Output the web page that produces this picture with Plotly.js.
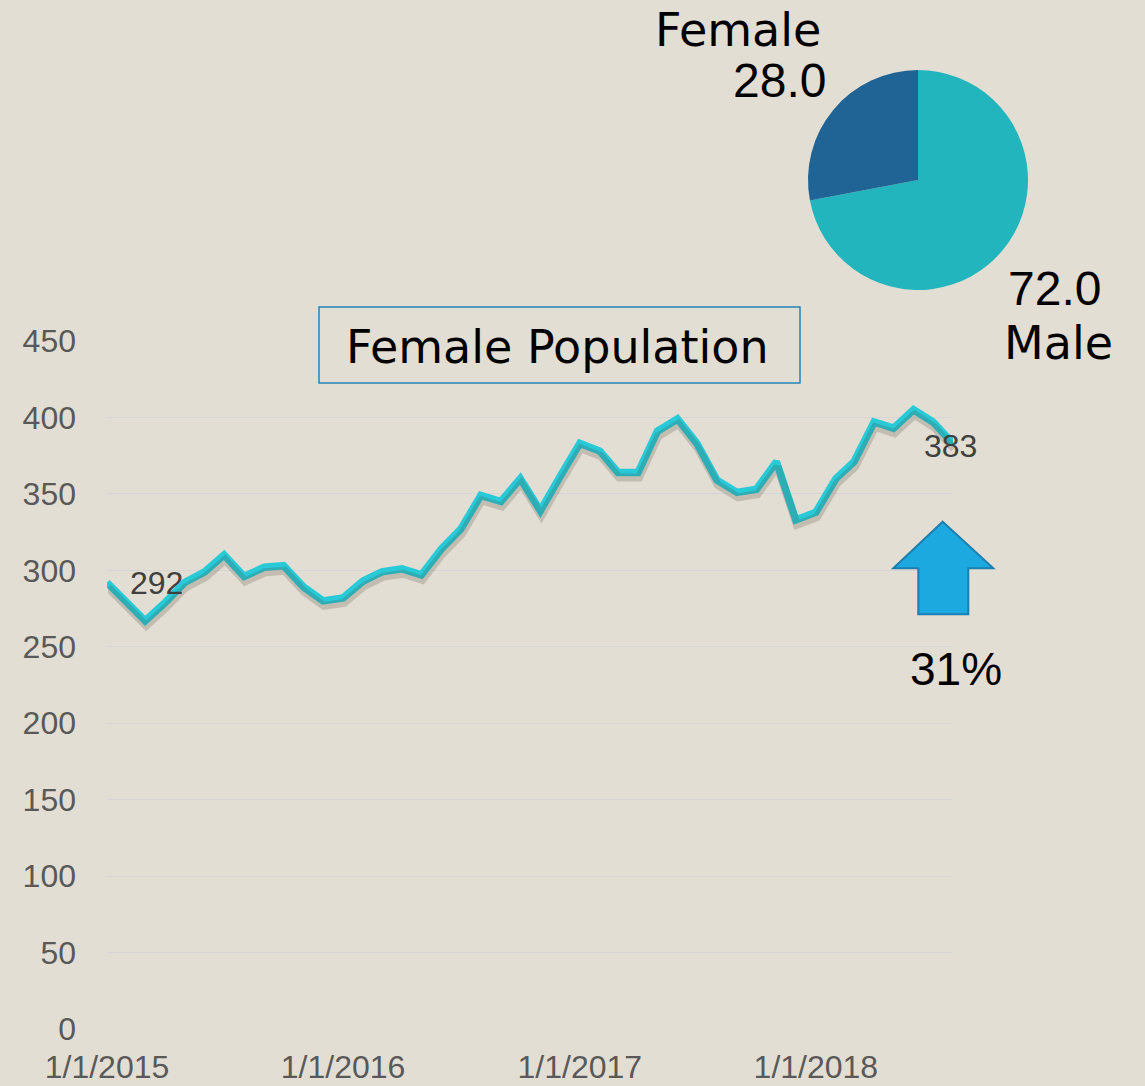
<!DOCTYPE html>
<html>
<head>
<meta charset="utf-8">
<script src="https://cdn.plot.ly/plotly-3.0.1.min.js"></script>
<style>html,body{margin:0;padding:0;background:#E3DED3;}#chart{width:1145px;height:1086px;}</style>
</head>
<body>
<div id="chart"></div>
<script>
// ---- data ----
const dates = ['2015-01-01','2015-02-01','2015-03-01','2015-04-01','2015-05-01','2015-06-01','2015-07-01','2015-08-01','2015-09-01','2015-10-01','2015-11-01','2015-12-01',
  '2016-01-01','2016-02-01','2016-03-01','2016-04-01','2016-05-01','2016-06-01','2016-07-01','2016-08-01','2016-09-01','2016-10-01','2016-11-01','2016-12-01',
  '2017-01-01','2017-02-01','2017-03-01','2017-04-01','2017-05-01','2017-06-01','2017-07-01','2017-08-01','2017-09-01','2017-10-01','2017-11-01','2017-12-01',
  '2018-01-01','2018-02-01','2018-03-01','2018-04-01','2018-05-01','2018-06-01','2018-07-01','2018-08-01'];
const femalePop = [292,279,267,279,292,299,310,296,302,303,289,280,
  282,293,299,301,297,314,327,349,345,360,339,361,
  383,378,364,364,391,399,383,359,351,353,371,333,
  338,360,371,397,393,405,397,383];
const xTickVals = ['2015-01-01','2016-01-01','2017-01-01','2018-01-01'];
const xTickText = ['1/1/2015','1/1/2016','1/1/2017','1/1/2018'];
const pieLabels = ['Male','Female'];
const pieValues = [72.0, 28.0];
const chartTitle = 'Female Population';

// ---- layout helpers (pixel -> paper) ----
const W = 1145, H = 1086;
const px = x => x / W;
const py = y => 1 - y / H;
const plotL = 107, plotR = 953, plotT = 341, plotB = 1029;
const sdx = 1, sdy = 5;

const bg = '#E3DED3';
const lineColor = '#29CAD8';
const wordFont = 'DejaVu Sans, sans-serif';
const numFont = 'Liberation Sans, Arial, sans-serif';

const last = femalePop.length - 1;
const growth = Math.round((femalePop[last] / femalePop[0] - 1) * 100) + '%';

const shadow = {
  x: dates, y: femalePop, type: 'scatter', mode: 'lines',
  xaxis: 'x2', yaxis: 'y2',
  line: {color: 'rgba(70,60,45,0.2)', width: 8},
  hoverinfo: 'skip', showlegend: false
};
const mainLine = {
  x: dates, y: femalePop, type: 'scatter', mode: 'lines',
  line: {color: lineColor, width: 7.5},
  showlegend: false
};
const pie = {
  type: 'pie', labels: pieLabels, values: pieValues,
  marker: {colors: ['#22B5BE', '#1F6495']},
  sort: false, direction: 'clockwise', rotation: 0,
  textinfo: 'none', hoverinfo: 'label+value',
  domain: {x: [px(807), px(1029)], y: [py(290), py(70)]},
  showlegend: false
};

const arrowPts = [[942.7,521.7],[993.3,568.3],[968.3,568.3],[968.3,614.3],[918.3,614.3],[918.3,568.3],[893.3,568.3]];
const arrowPath = 'M ' + arrowPts.map(p => px(p[0]) + ',' + py(p[1])).join(' L ') + ' Z';

const layout = {
  width: W, height: H,
  paper_bgcolor: bg, plot_bgcolor: 'rgba(0,0,0,0)',
  margin: {l: 0, r: 0, t: 0, b: 0},
  xaxis: {
    type: 'date', domain: [px(plotL), px(plotR)],
    range: [dates[0], dates[last]],
    tickvals: xTickVals, ticktext: xTickText,
    showgrid: false, zeroline: false, showline: false, ticks: '',
    ticklabelstandoff: 16,
    tickfont: {family: numFont, size: 32, color: '#595959'},
    anchor: 'y'
  },
  yaxis: {
    domain: [py(plotB), py(plotT)], range: [0, 450], dtick: 50,
    showgrid: true, gridcolor: '#D6D6D6', gridwidth: 1.2,
    zeroline: false, showline: false, ticks: '',
    ticklabelstandoff: 30,
    tickfont: {family: numFont, size: 32, color: '#595959'},
    anchor: 'x'
  },
  xaxis2: {
    type: 'date', domain: [px(plotL + sdx), px(plotR + sdx)],
    range: [dates[0], dates[last]], visible: false, anchor: 'y2'
  },
  yaxis2: {
    domain: [py(plotB + sdy), py(plotT + sdy)], range: [0, 450],
    visible: false, anchor: 'x2'
  },
  shapes: [
    {type: 'rect', xref: 'paper', yref: 'paper',
     x0: px(319), x1: px(800), y0: py(383), y1: py(307),
     line: {color: '#2585B5', width: 1.5}, fillcolor: 'rgba(0,0,0,0)'},
    {type: 'path', xref: 'paper', yref: 'paper', path: arrowPath,
     fillcolor: '#1CA9E0', line: {color: '#1B7FAF', width: 2}}
  ],
  annotations: [
    {xref: 'paper', yref: 'paper', x: px(557), y: py(347), xanchor: 'center', yanchor: 'middle',
     text: chartTitle, showarrow: false, font: {family: wordFont, size: 46, color: '#000'}},
    {xref: 'x', yref: 'y', x: dates[0], y: femalePop[0], xanchor: 'left', yanchor: 'middle',
     xshift: 21, yshift: 0, text: String(femalePop[0]), showarrow: false,
     font: {family: numFont, size: 32, color: '#404040'}},
    {xref: 'x', yref: 'y', x: dates[last], y: femalePop[last], xanchor: 'center', yanchor: 'middle',
     xshift: -3, yshift: -3, text: String(femalePop[last]), showarrow: false,
     font: {family: numFont, size: 32, color: '#404040'}},
    {xref: 'paper', yref: 'paper', x: px(956), y: py(669), xanchor: 'center', yanchor: 'middle',
     text: growth, showarrow: false, font: {family: numFont, size: 46, color: '#000'}},
    {xref: 'paper', yref: 'paper', x: px(823), y: py(30), xanchor: 'right', yanchor: 'middle',
     text: pieLabels[1], showarrow: false, font: {family: wordFont, size: 46, color: '#000'}},
    {xref: 'paper', yref: 'paper', x: px(828), y: py(81), xanchor: 'right', yanchor: 'middle',
     text: pieValues[1].toFixed(1), showarrow: false, font: {family: numFont, size: 48, color: '#000'}},
    {xref: 'paper', yref: 'paper', x: px(1006), y: py(288), xanchor: 'left', yanchor: 'middle',
     text: pieValues[0].toFixed(1), showarrow: false, font: {family: numFont, size: 48, color: '#000'}},
    {xref: 'paper', yref: 'paper', x: px(1002), y: py(343), xanchor: 'left', yanchor: 'middle',
     text: pieLabels[0], showarrow: false, font: {family: wordFont, size: 46, color: '#000'}}
  ]
};

Plotly.newPlot('chart', [shadow, mainLine, pie], layout, {displayModeBar: false, staticPlot: true});
</script>
</body>
</html>
